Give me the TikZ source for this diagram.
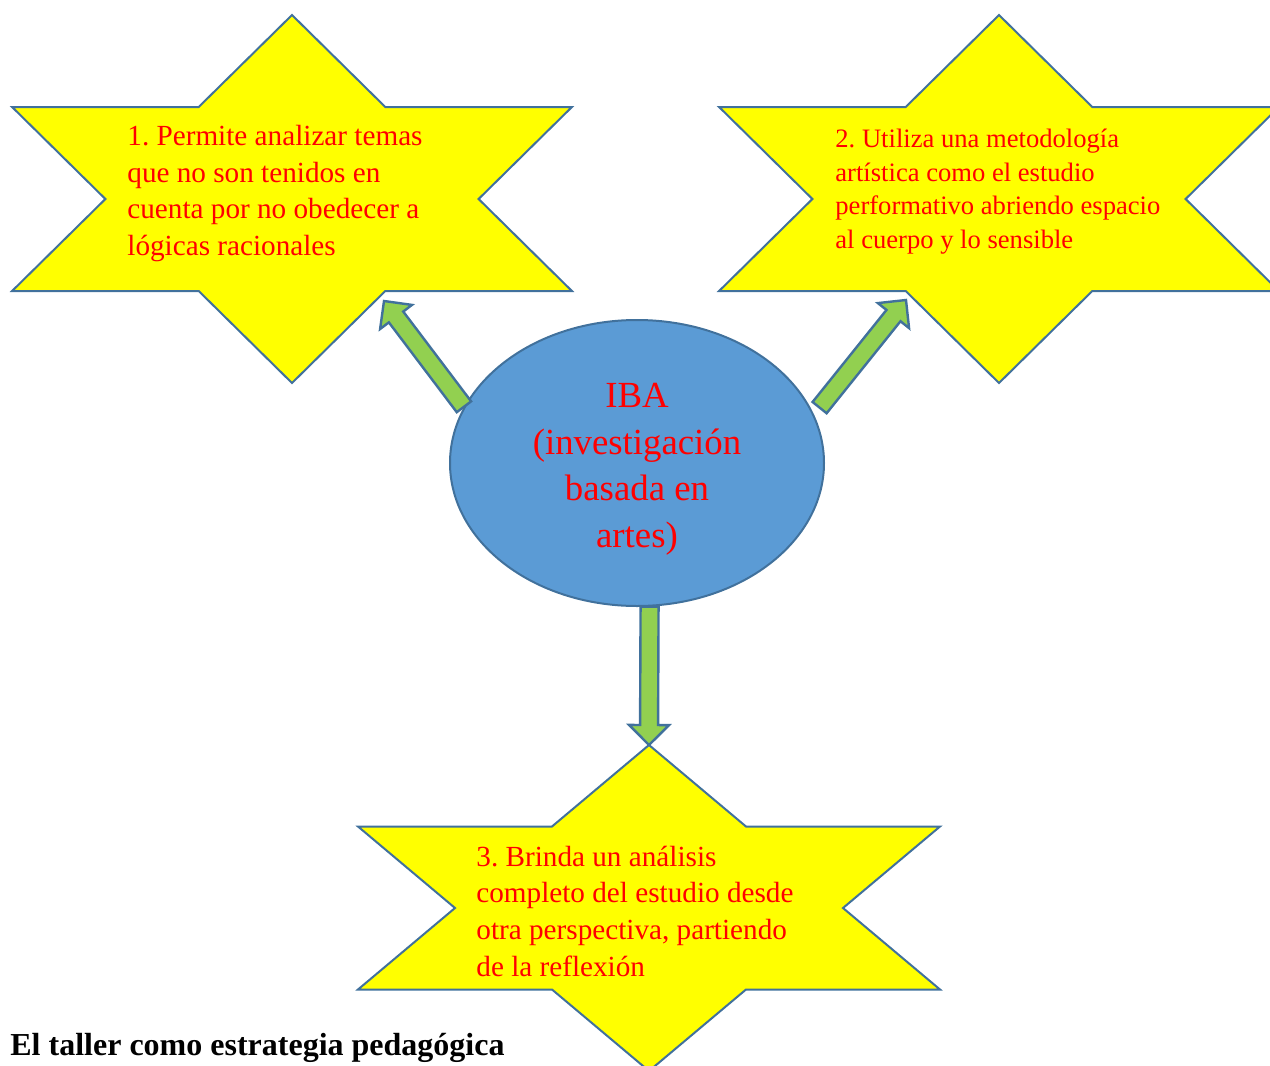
\documentclass[tikz,border=0pt]{standalone}
\usepackage{fontspec}
\setmainfont{Liberation Serif}
\usepackage{tikz}
\usetikzlibrary{shapes.geometric,calc}
\definecolor{starfill}{RGB}{255,255,0}
\definecolor{edgeblue}{RGB}{65,113,156}
\definecolor{ibablue}{RGB}{91,155,213}
\definecolor{arrowgreen}{RGB}{146,208,80}
\frenchspacing

\begin{document}
\begin{tikzpicture}[
        x=0.5pt, y=-0.5pt,
        every node/.append style={text=red}
    ]
    \tikzstyle{hexstar}=[draw=edgeblue,fill=starfill,line width=1pt,line join=miter];
    \tikzstyle{startext}=[align=left,anchor=base west,inner sep=0pt];
    \tikzstyle{blockarrow}=[draw=edgeblue,fill=arrowgreen,line width=1.2pt,line join=miter,
        to path={($(\tikztostart)!4.5pt!90:(\tikztotarget)$)
            -- ($(\tikztotarget)!10pt!(\tikztostart)!4.5pt!90:(\tikztotarget)$)
            -- ($(\tikztotarget)!10pt!(\tikztostart)!10pt!90:(\tikztotarget)$)
            -- (\tikztotarget)
            -- ($(\tikztotarget)!10pt!(\tikztostart)!10pt!-90:(\tikztotarget)$)
            -- ($(\tikztotarget)!10pt!(\tikztostart)!4.5pt!-90:(\tikztotarget)$)
            -- ($(\tikztostart)!4.5pt!-90:(\tikztotarget)$) -- cycle}];
    \useasboundingbox (0,0) rectangle (1270,1066);
    % first star
    \begin{scope}[shift={(292,199)},xscale=93.3,yscale=92]
        \draw[hexstar] (0,-2) -- (1,-1) -- (3,-1) -- (2,0) -- (3,1) -- (1,1) -- (0,2) -- (-1,1) -- (-3,1) -- (-2,0) -- (-3,-1) -- (-1,-1) -- cycle;
    \end{scope}
    \node[startext,font=\fontsize{14.6}{18.2}\selectfont] (t1) at (127,255) {1. Permite analizar temas\\que no son tenidos en\\cuenta por no obedecer a\\lógicas racionales};
    % second star
    \begin{scope}[shift={(999,199)},xscale=93.3,yscale=92]
        \draw[hexstar] (0,-2) -- (1,-1) -- (3,-1) -- (2,0) -- (3,1) -- (1,1) -- (0,2) -- (-1,1) -- (-3,1) -- (-2,0) -- (-3,-1) -- (-1,-1) -- cycle;
    \end{scope}
    \node[startext,font=\fontsize{13.3}{16.7}\selectfont] (t2) at (835,248) {2. Utiliza una metodología\\artística como el estudio\\performativo abriendo espacio\\al cuerpo y lo sensible};
    % third star
    \begin{scope}[shift={(649,908)},xscale=97,yscale=81.5]
        \draw[hexstar] (0,-2) -- (1,-1) -- (3,-1) -- (2,0) -- (3,1) -- (1,1) -- (0,2) -- (-1,1) -- (-3,1) -- (-2,0) -- (-3,-1) -- (-1,-1) -- cycle;
    \end{scope}
    \node[startext,font=\fontsize{14.6}{18.3}\selectfont] (t3) at (476,976) {3. Brinda un análisis\\completo del estudio desde\\otra perspectiva, partiendo\\de la reflexión};
    % centre
    \node[ellipse,draw=edgeblue,fill=ibablue,line width=1pt,minimum width=187pt,minimum height=143pt,inner sep=0pt,align=center,text height=88pt,font=\fontsize{18.4}{23.2}\selectfont] (iba) at (637,463) {IBA\\(investigación\\basada en\\artes)};
    \coordinate (s1tip) at (384,301);
    \coordinate (s2tip) at (906,300);
    \coordinate (s3top) at (649,745);
    \coordinate (a2base) at ($(iba.17)+(8,-2)$);
    \draw[blockarrow] (iba.162) to (s1tip);
    \draw[blockarrow] (a2base) to (s2tip);
    \draw[blockarrow] (iba.-85) to (s3top);
    % heading
    \node[anchor=base west,inner sep=0pt,text=black,font=\fontsize{16}{19}\selectfont\bfseries] (title) at (10,1055) {El taller como estrategia pedagógica};
\end{tikzpicture}
\end{document}
